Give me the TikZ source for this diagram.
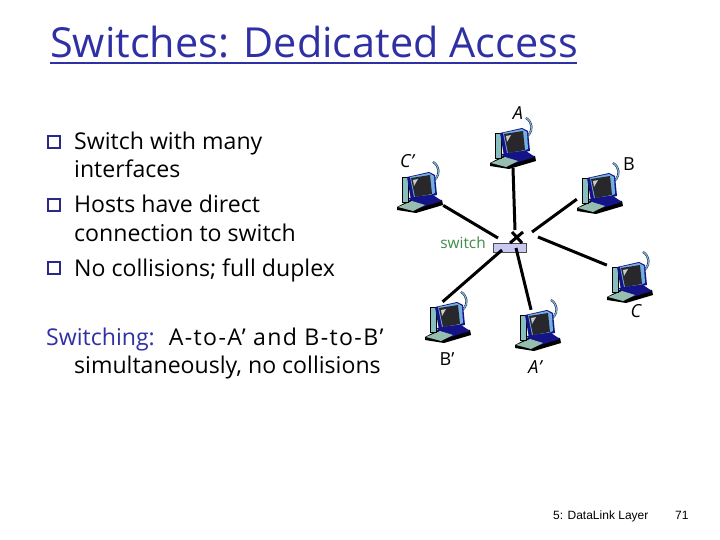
\documentclass[tikz,border=0pt]{standalone}
\usepackage{fontspec}
\setmainfont{Open Sans}
\newfontfamily\footfont{Liberation Sans}
\usetikzlibrary{positioning,calc}
\definecolor{titleblue}{RGB}{48,48,165}
\definecolor{switchgreen}{RGB}{62,140,72}
\definecolor{switchfill}{RGB}{200,200,240}
\definecolor{towercol}{RGB}{135,190,190}
\definecolor{bezelcol}{RGB}{115,175,225}
\definecolor{screencol}{RGB}{40,40,44}
\definecolor{basecol}{RGB}{20,20,135}
\definecolor{keycol}{RGB}{150,190,175}
\tikzset{
  body/.style={font=\fontsize{23.1}{23.1}\selectfont, anchor=base west, inner sep=0pt},
  hostlabel/.style={font=\fontsize{18}{18}\selectfont\itshape, inner sep=0pt},
  hostlabelup/.style={font=\fontsize{18}{18}\selectfont, inner sep=0pt},
  hostbox/.style={minimum width=46pt, minimum height=40pt, inner sep=0pt},
  wire/.style={line width=3pt},
  bullet/.style={draw=titleblue!85!black, line width=1.8pt, minimum size=12pt, inner sep=0pt},
  foot/.style={font=\footfont\fontsize{12}{12}\selectfont, anchor=base west, inner sep=0pt},
  host/.pic={
    \draw[black, line width=2pt] (13,-11) arc (60:-60:11);
    \draw[bezelcol, line width=1.3pt] (13,-11) arc (60:-60:11);
    \fill[black] (-23,15) -- (-8,7) -- (22,8) -- (23,13) -- (-4,21) -- (-23,18) -- cycle;
    \fill[basecol] (-12,6) -- (13,3) -- (22,9) -- (-1,16) -- cycle;
    \fill[keycol] (-22,15) -- (-8,9) -- (5,13) -- (-7,19) -- cycle;
    \fill[towercol] (-18,-15) rectangle (-12,10);
    \draw[black, line width=.5pt] (-18,-15) rectangle (-12,10);
    \fill[basecol] (-13,-15) -- (9,-20) -- (15,-17) -- (17,3) -- (-9,8) -- cycle;
    \fill[bezelcol] (-10,-15) -- (9,-19) -- (14,-16) -- (15,1) -- (10,3) -- (-6,5) -- cycle;
    \fill[screencol] (-9,-14) -- (10,-17) -- (12,2) -- (-5,5) -- cycle;
    \fill[white!60!gray] (-7,-12) -- (-2,-13) -- (-6,-6) -- cycle;
    \fill[basecol] (-5,5) -- (10,3) -- (12,7) -- (-3,9) -- cycle;
  }
}
\begin{document}
\begin{tikzpicture}[x=1pt,y=-1pt]
\useasboundingbox (0,0) rectangle (720,540);
% title
\node[font=\fontsize{41.4}{41.4}\selectfont, text=titleblue, anchor=base west, inner sep=0pt] (title) at (50,58) {Switches: Dedicated Access};
\draw[titleblue, line width=2.4pt] (50,63) coordinate (ruleL) -- (577,63) coordinate (ruleR);
% bullets
\node[bullet] (b1) at (54,142) {};
\node[bullet] (b2) at (54,205) {};
\node[bullet] (b3) at (54,268) {};
\node[body] (t1) at (74,150) {Switch with many};
\node[body] (t2) at (74,178) {interfaces};
\node[body] (t3) at (74,213) {Hosts have direct};
\node[body] (t4) at (74,241) {connection to switch};
\node[body] (t5) at (74,276) {No collisions; full duplex};
\node[body] (t6) at (46,345) {\textcolor{titleblue}{Switching:}\hspace{14pt}\addfontfeature{LetterSpace=6}A-to-A' and B-to-B'};
\node[body] (t7) at (74,373) {simultaneously, no collisions};
% hosts
\node[hostbox] (hA) at (513,148) {};
\node[hostbox] (hCp) at (420,192) {};
\node[hostbox] (hB) at (600,193) {};
\node[hostbox] (hC) at (630,282) {};
\node[hostbox] (hBp) at (448,322) {};
\node[hostbox] (hAp) at (538,330) {};
\pic at (hA) {host};
\pic at (hCp) {host};
\pic at (hB) {host};
\pic at (hC) {host};
\pic at (hBp) {host};
\pic at (hAp) {host};
% switch
\node[draw=black!70, line width=.6pt, fill=switchfill, minimum width=33pt, minimum height=9pt, inner sep=0pt] (sw) at (509.5,247.5) {};
\node[font=\fontsize{15.4}{15.4}\selectfont, text=switchgreen, inner sep=0pt] (swlabel) at (463,243) {switch};
\coordinate (eA) at (515,230);
\coordinate (eCp) at (498,238);
\coordinate (eB) at (532,232);
\coordinate (eC) at (538,237);
\coordinate (eBp) at (502,250);
\coordinate (eAp) at (516,248);
\draw[wire] (hA.south) -- (eA);
\draw[wire] (hCp.-30) -- (eCp);
\draw[wire] (hB.195) -- (eB);
\draw[wire] (hC.144) -- (eC);
\draw[wire] (hBp.105) -- (eBp);
\draw[wire] (hAp.109) -- (eAp);
% crossing above the switch
\coordinate (x1) at (512,232);
\coordinate (x2) at (522,243);
\coordinate (x3) at (523,232);
\coordinate (x4) at (510,243);
\draw[wire] (x1) -- (x2);
\draw[wire] (x3) -- (x4);
% host labels
\node[hostlabel] (lA) at (518,113) {A};
\node[hostlabelup] (lB) at (629,164) {B};
\node[hostlabel] (lCp) at (407,161) {C'};
\node[hostlabel] (lC) at (636,311) {C};
\node[hostlabelup] (lBp) at (447,359) {B'};
\node[hostlabel] (lAp) at (535,367) {A'};
% footer
\node[foot] (f1) at (553,519) {5: DataLink Layer};
\node[foot] (f2) at (675,519) {71};
\end{tikzpicture}
\end{document}
